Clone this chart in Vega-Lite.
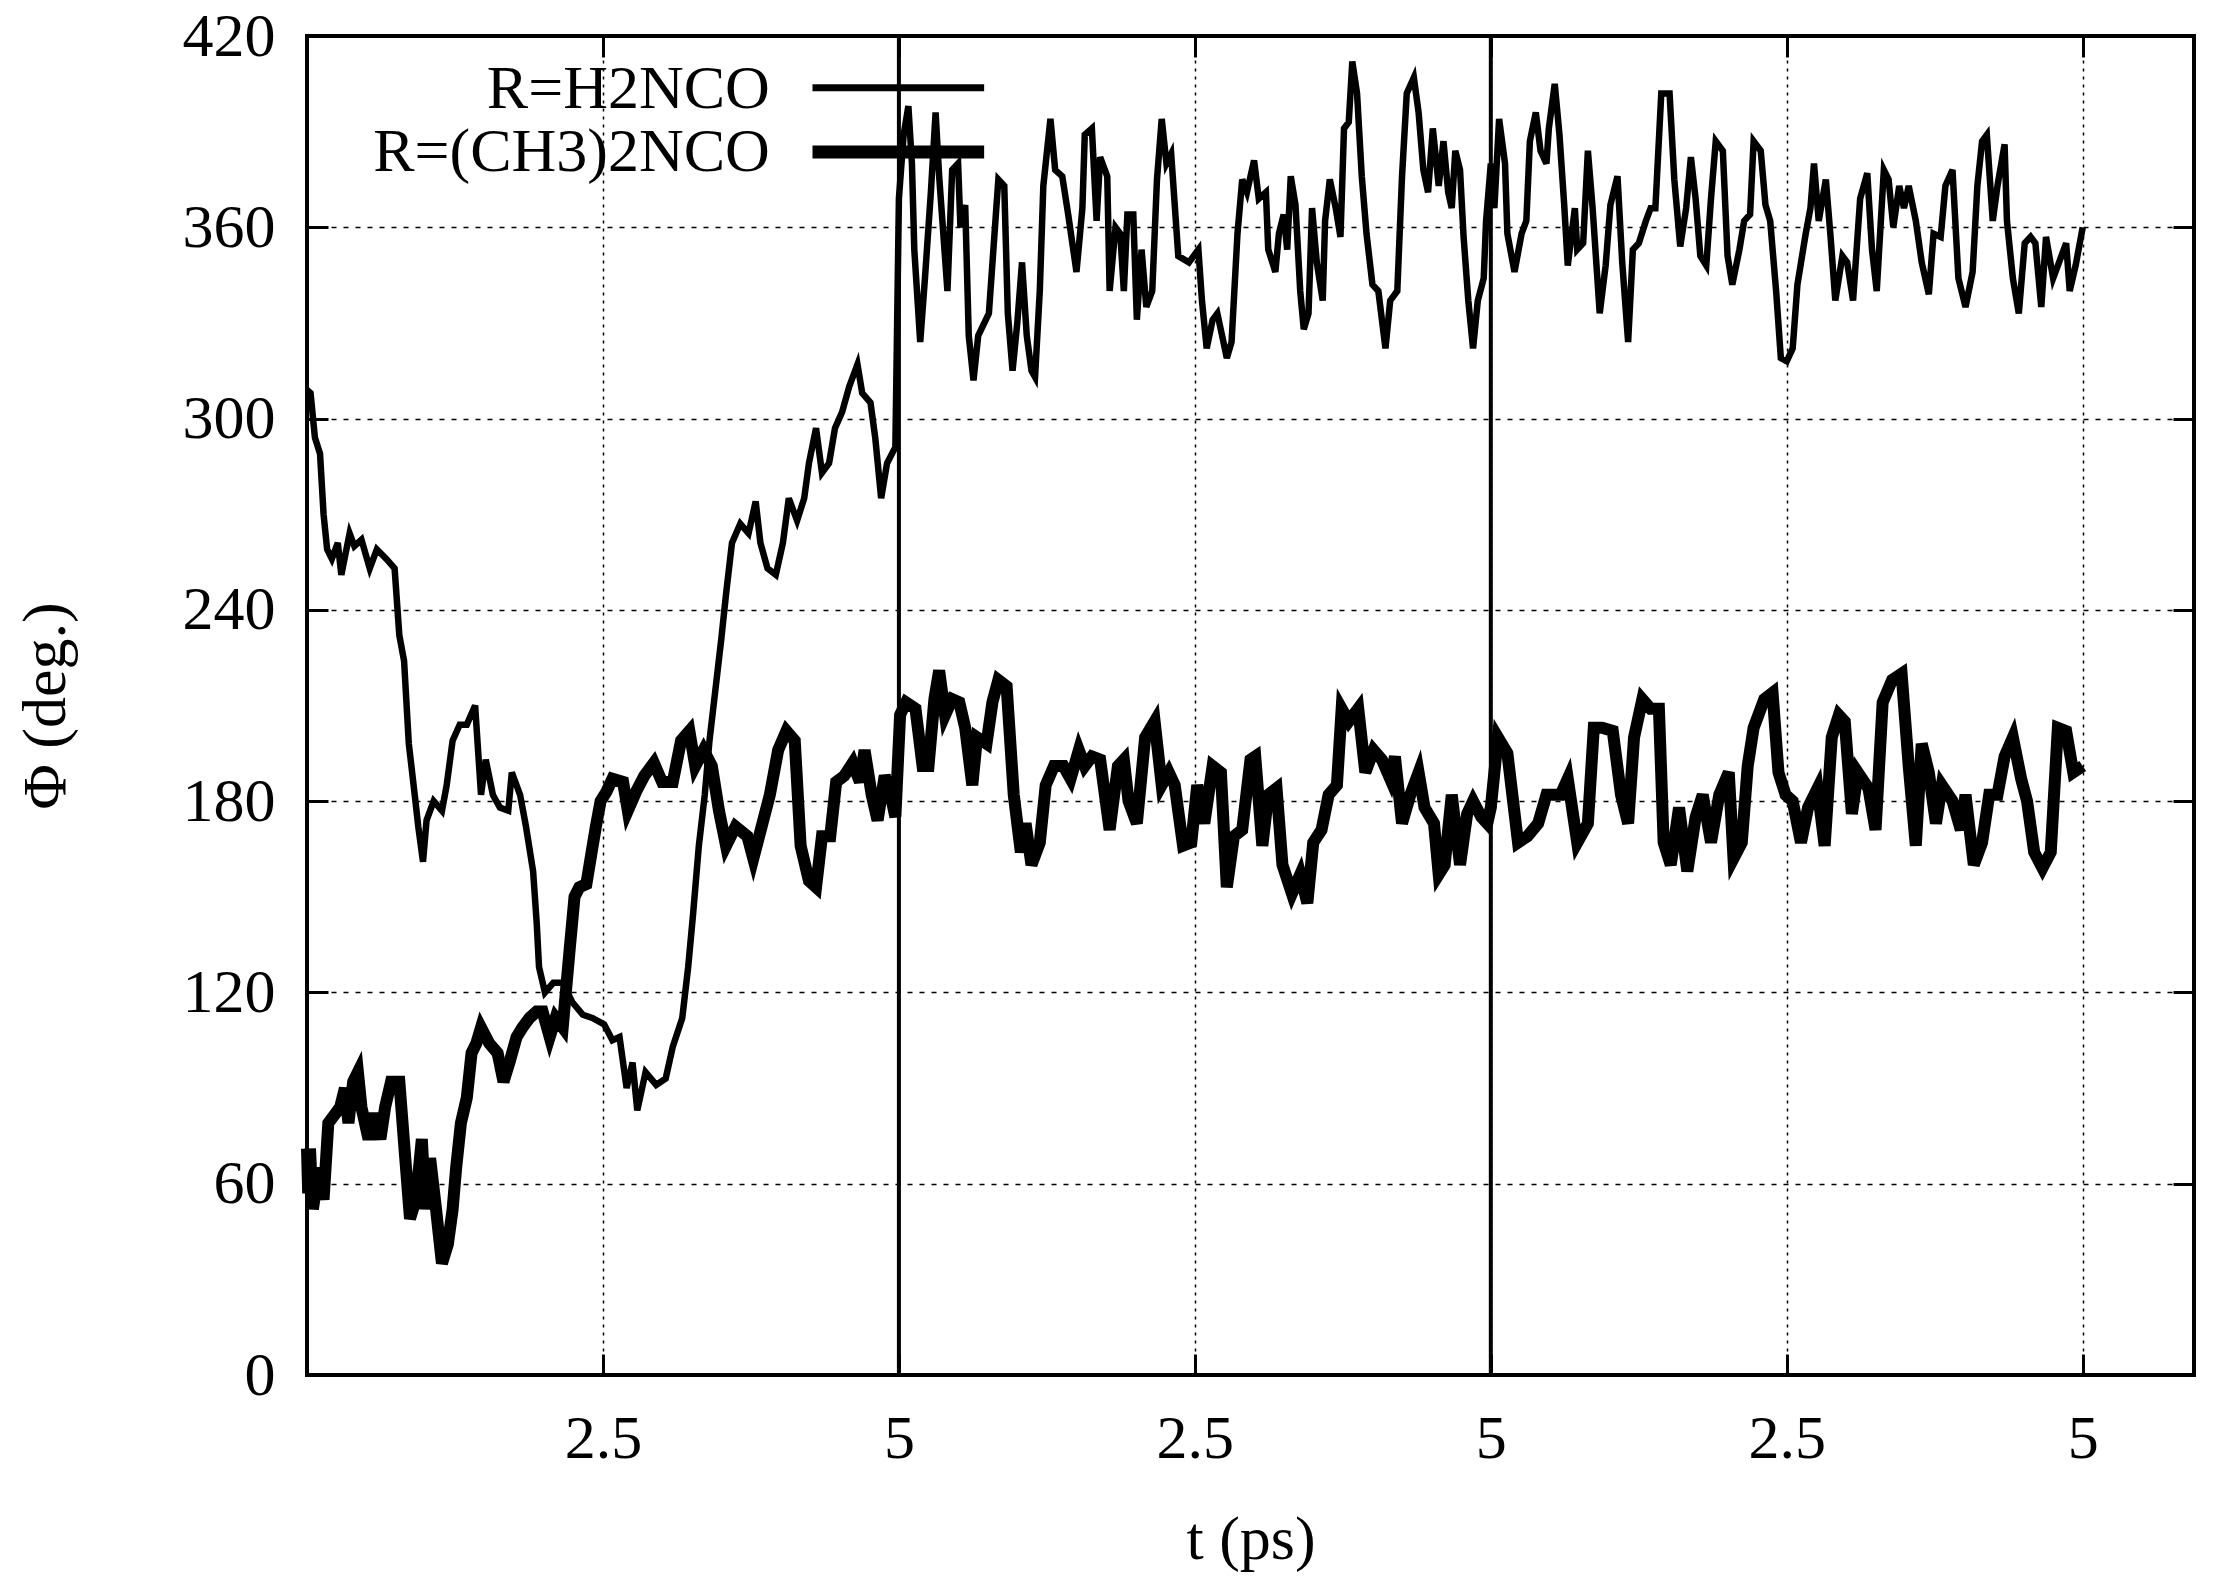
{
  "$schema": "https://vega.github.io/schema/vega-lite/v6.json",
  "width": 1887,
  "height": 1339,
  "autosize": "none",
  "padding": {"left": 307, "top": 36, "right": 20, "bottom": 212},
  "background": "white",
  "config": {
    "view": {"stroke": "black", "strokeWidth": 4},
    "font": "Liberation Serif",
    "axis": {
      "labelFont": "Liberation Serif",
      "labelFontSize": 62,
      "labelColor": "black",
      "labelFlush": false,
      "labelOverlap": false,
      "titleFont": "Liberation Serif",
      "titleFontSize": 62,
      "titleFontWeight": "normal",
      "titleColor": "black",
      "tickColor": "black",
      "tickWidth": 3,
      "tickSize": -21,
      "domain": false,
      "gridColor": "black",
      "gridOpacity": 1,
      "gridWidth": 1.5
    }
  },
  "datasets": {
    "h2nco": [
      {"t": 0, "phi": 309}, {"t": 0.03, "phi": 308}, {"t": 0.067, "phi": 294}, {"t": 0.11, "phi": 289},
      {"t": 0.14, "phi": 270}, {"t": 0.17, "phi": 259}, {"t": 0.21, "phi": 256}, {"t": 0.26, "phi": 261},
      {"t": 0.29, "phi": 251}, {"t": 0.36, "phi": 264}, {"t": 0.4, "phi": 260}, {"t": 0.46, "phi": 262},
      {"t": 0.53, "phi": 253}, {"t": 0.59, "phi": 259}, {"t": 0.67, "phi": 256}, {"t": 0.74, "phi": 253},
      {"t": 0.78, "phi": 232}, {"t": 0.82, "phi": 224}, {"t": 0.86, "phi": 198}, {"t": 0.91, "phi": 182},
      {"t": 0.94, "phi": 172}, {"t": 0.98, "phi": 161}, {"t": 1.01, "phi": 174}, {"t": 1.07, "phi": 180},
      {"t": 1.14, "phi": 177}, {"t": 1.18, "phi": 185}, {"t": 1.23, "phi": 199}, {"t": 1.29, "phi": 204},
      {"t": 1.35, "phi": 204}, {"t": 1.42, "phi": 210}, {"t": 1.47, "phi": 182}, {"t": 1.51, "phi": 193},
      {"t": 1.57, "phi": 182}, {"t": 1.63, "phi": 178}, {"t": 1.7, "phi": 177}, {"t": 1.73, "phi": 189},
      {"t": 1.8, "phi": 182}, {"t": 1.85, "phi": 172}, {"t": 1.91, "phi": 158}, {"t": 1.94, "phi": 142},
      {"t": 1.96, "phi": 128}, {"t": 2.01, "phi": 120}, {"t": 2.08, "phi": 123}, {"t": 2.16, "phi": 123},
      {"t": 2.24, "phi": 117}, {"t": 2.33, "phi": 113}, {"t": 2.41, "phi": 112}, {"t": 2.51, "phi": 110},
      {"t": 2.58, "phi": 105}, {"t": 2.64, "phi": 106}, {"t": 2.7, "phi": 90}, {"t": 2.75, "phi": 98},
      {"t": 2.79, "phi": 83}, {"t": 2.86, "phi": 95}, {"t": 2.95, "phi": 91}, {"t": 3.03, "phi": 93},
      {"t": 3.09, "phi": 103}, {"t": 3.17, "phi": 112}, {"t": 3.22, "phi": 128}, {"t": 3.26, "phi": 144},
      {"t": 3.31, "phi": 166}, {"t": 3.36, "phi": 182}, {"t": 3.4, "phi": 199}, {"t": 3.45, "phi": 215},
      {"t": 3.5, "phi": 231}, {"t": 3.54, "phi": 245}, {"t": 3.59, "phi": 261}, {"t": 3.66, "phi": 267},
      {"t": 3.73, "phi": 264}, {"t": 3.79, "phi": 274}, {"t": 3.83, "phi": 261}, {"t": 3.89, "phi": 253},
      {"t": 3.96, "phi": 251}, {"t": 4.02, "phi": 261}, {"t": 4.07, "phi": 275}, {"t": 4.14, "phi": 268},
      {"t": 4.2, "phi": 275}, {"t": 4.24, "phi": 286}, {"t": 4.3, "phi": 297}, {"t": 4.35, "phi": 283},
      {"t": 4.41, "phi": 286}, {"t": 4.46, "phi": 297}, {"t": 4.52, "phi": 302}, {"t": 4.58, "phi": 310},
      {"t": 4.65, "phi": 317}, {"t": 4.69, "phi": 308}, {"t": 4.76, "phi": 305}, {"t": 4.8, "phi": 294},
      {"t": 4.85, "phi": 275}, {"t": 4.9, "phi": 286}, {"t": 4.97, "phi": 291}, {"t": 5.0, "phi": 369},
      {"t": 5.04, "phi": 389}, {"t": 5.08, "phi": 398}, {"t": 5.11, "phi": 380}, {"t": 5.13, "phi": 353},
      {"t": 5.18, "phi": 324}, {"t": 5.22, "phi": 344}, {"t": 5.27, "phi": 371}, {"t": 5.31, "phi": 396},
      {"t": 5.34, "phi": 376}, {"t": 5.41, "phi": 340}, {"t": 5.45, "phi": 378}, {"t": 5.5, "phi": 380},
      {"t": 5.52, "phi": 360}, {"t": 5.56, "phi": 367}, {"t": 5.59, "phi": 326}, {"t": 5.63, "phi": 312},
      {"t": 5.67, "phi": 326}, {"t": 5.76, "phi": 333}, {"t": 5.84, "phi": 375}, {"t": 5.89, "phi": 373},
      {"t": 5.92, "phi": 333}, {"t": 5.96, "phi": 315}, {"t": 6.0, "phi": 330}, {"t": 6.04, "phi": 349},
      {"t": 6.08, "phi": 326}, {"t": 6.12, "phi": 315}, {"t": 6.15, "phi": 313}, {"t": 6.19, "phi": 340},
      {"t": 6.22, "phi": 373}, {"t": 6.28, "phi": 394}, {"t": 6.32, "phi": 378}, {"t": 6.38, "phi": 376},
      {"t": 6.43, "phi": 364}, {"t": 6.5, "phi": 346}, {"t": 6.55, "phi": 366}, {"t": 6.57, "phi": 389},
      {"t": 6.63, "phi": 391}, {"t": 6.67, "phi": 362}, {"t": 6.7, "phi": 382}, {"t": 6.76, "phi": 376},
      {"t": 6.78, "phi": 340}, {"t": 6.83, "phi": 360}, {"t": 6.87, "phi": 358}, {"t": 6.9, "phi": 340},
      {"t": 6.93, "phi": 364}, {"t": 6.98, "phi": 364}, {"t": 7.01, "phi": 331}, {"t": 7.05, "phi": 353},
      {"t": 7.09, "phi": 335}, {"t": 7.14, "phi": 340}, {"t": 7.18, "phi": 375}, {"t": 7.22, "phi": 394},
      {"t": 7.26, "phi": 380}, {"t": 7.3, "phi": 383}, {"t": 7.36, "phi": 351}, {"t": 7.45, "phi": 349},
      {"t": 7.53, "phi": 353}, {"t": 7.56, "phi": 337}, {"t": 7.6, "phi": 322}, {"t": 7.65, "phi": 331},
      {"t": 7.69, "phi": 333}, {"t": 7.73, "phi": 326}, {"t": 7.77, "phi": 319}, {"t": 7.81, "phi": 324},
      {"t": 7.86, "phi": 358}, {"t": 7.9, "phi": 375}, {"t": 7.94, "phi": 371}, {"t": 8.0, "phi": 381},
      {"t": 8.04, "phi": 369}, {"t": 8.1, "phi": 371}, {"t": 8.12, "phi": 353}, {"t": 8.18, "phi": 346},
      {"t": 8.21, "phi": 358}, {"t": 8.25, "phi": 364}, {"t": 8.28, "phi": 353}, {"t": 8.31, "phi": 376},
      {"t": 8.35, "phi": 367}, {"t": 8.39, "phi": 340}, {"t": 8.42, "phi": 328}, {"t": 8.46, "phi": 333},
      {"t": 8.49, "phi": 366}, {"t": 8.53, "phi": 349}, {"t": 8.58, "phi": 337}, {"t": 8.6, "phi": 362},
      {"t": 8.64, "phi": 375}, {"t": 8.69, "phi": 366}, {"t": 8.73, "phi": 357}, {"t": 8.76, "phi": 391},
      {"t": 8.8, "phi": 393}, {"t": 8.83, "phi": 412}, {"t": 8.87, "phi": 402}, {"t": 8.91, "phi": 376},
      {"t": 8.95, "phi": 358}, {"t": 9.0, "phi": 342}, {"t": 9.05, "phi": 340}, {"t": 9.11, "phi": 322},
      {"t": 9.15, "phi": 337}, {"t": 9.21, "phi": 340}, {"t": 9.25, "phi": 376}, {"t": 9.29, "phi": 402},
      {"t": 9.35, "phi": 407}, {"t": 9.39, "phi": 396}, {"t": 9.43, "phi": 378}, {"t": 9.47, "phi": 371},
      {"t": 9.51, "phi": 391}, {"t": 9.56, "phi": 373}, {"t": 9.6, "phi": 387}, {"t": 9.64, "phi": 371},
      {"t": 9.67, "phi": 366}, {"t": 9.7, "phi": 384}, {"t": 9.74, "phi": 378}, {"t": 9.77, "phi": 357},
      {"t": 9.81, "phi": 337}, {"t": 9.85, "phi": 322}, {"t": 9.89, "phi": 337}, {"t": 9.94, "phi": 344},
      {"t": 9.96, "phi": 362}, {"t": 10.0, "phi": 380}, {"t": 10.03, "phi": 366}, {"t": 10.07, "phi": 394},
      {"t": 10.12, "phi": 380}, {"t": 10.14, "phi": 358}, {"t": 10.2, "phi": 346}, {"t": 10.26, "phi": 358},
      {"t": 10.3, "phi": 362}, {"t": 10.33, "phi": 387}, {"t": 10.38, "phi": 396}, {"t": 10.42, "phi": 384},
      {"t": 10.47, "phi": 380}, {"t": 10.49, "phi": 391}, {"t": 10.54, "phi": 405}, {"t": 10.58, "phi": 389},
      {"t": 10.62, "phi": 367}, {"t": 10.65, "phi": 348}, {"t": 10.71, "phi": 366}, {"t": 10.73, "phi": 353},
      {"t": 10.78, "phi": 355}, {"t": 10.82, "phi": 384}, {"t": 10.86, "phi": 366}, {"t": 10.92, "phi": 333},
      {"t": 10.97, "phi": 348}, {"t": 11.01, "phi": 367}, {"t": 11.07, "phi": 376}, {"t": 11.11, "phi": 349},
      {"t": 11.16, "phi": 324}, {"t": 11.2, "phi": 353}, {"t": 11.25, "phi": 355}, {"t": 11.31, "phi": 362},
      {"t": 11.35, "phi": 366}, {"t": 11.39, "phi": 366}, {"t": 11.44, "phi": 402}, {"t": 11.51, "phi": 402},
      {"t": 11.55, "phi": 375}, {"t": 11.6, "phi": 354}, {"t": 11.65, "phi": 366}, {"t": 11.69, "phi": 382},
      {"t": 11.73, "phi": 369}, {"t": 11.77, "phi": 351}, {"t": 11.82, "phi": 348}, {"t": 11.86, "phi": 369},
      {"t": 11.9, "phi": 387}, {"t": 11.96, "phi": 384}, {"t": 12.0, "phi": 351}, {"t": 12.04, "phi": 342},
      {"t": 12.1, "phi": 353}, {"t": 12.14, "phi": 362}, {"t": 12.19, "phi": 364}, {"t": 12.22, "phi": 387},
      {"t": 12.28, "phi": 384}, {"t": 12.32, "phi": 367}, {"t": 12.36, "phi": 362}, {"t": 12.41, "phi": 340},
      {"t": 12.45, "phi": 319}, {"t": 12.5, "phi": 318}, {"t": 12.55, "phi": 322}, {"t": 12.59, "phi": 342},
      {"t": 12.66, "phi": 358}, {"t": 12.7, "phi": 366}, {"t": 12.73, "phi": 380}, {"t": 12.77, "phi": 362},
      {"t": 12.83, "phi": 375}, {"t": 12.87, "phi": 357}, {"t": 12.91, "phi": 337}, {"t": 12.97, "phi": 351},
      {"t": 13.01, "phi": 349}, {"t": 13.06, "phi": 337}, {"t": 13.12, "phi": 369}, {"t": 13.18, "phi": 377},
      {"t": 13.22, "phi": 353}, {"t": 13.26, "phi": 340}, {"t": 13.32, "phi": 378}, {"t": 13.36, "phi": 375},
      {"t": 13.4, "phi": 360}, {"t": 13.45, "phi": 373}, {"t": 13.49, "phi": 366}, {"t": 13.53, "phi": 373},
      {"t": 13.59, "phi": 362}, {"t": 13.64, "phi": 349}, {"t": 13.7, "phi": 339}, {"t": 13.74, "phi": 358},
      {"t": 13.8, "phi": 357}, {"t": 13.84, "phi": 373}, {"t": 13.9, "phi": 378}, {"t": 13.95, "phi": 344},
      {"t": 14.01, "phi": 335}, {"t": 14.07, "phi": 346}, {"t": 14.11, "phi": 373}, {"t": 14.15, "phi": 387},
      {"t": 14.19, "phi": 389}, {"t": 14.24, "phi": 362}, {"t": 14.28, "phi": 373}, {"t": 14.34, "phi": 386},
      {"t": 14.36, "phi": 362}, {"t": 14.41, "phi": 344}, {"t": 14.46, "phi": 333}, {"t": 14.51, "phi": 355},
      {"t": 14.56, "phi": 357}, {"t": 14.6, "phi": 355}, {"t": 14.65, "phi": 335}, {"t": 14.69, "phi": 357},
      {"t": 14.75, "phi": 344}, {"t": 14.8, "phi": 349}, {"t": 14.86, "phi": 355}, {"t": 14.89, "phi": 340},
      {"t": 14.94, "phi": 348}, {"t": 15.0, "phi": 360}
    ],
    "ch3": [
      {"t": 0, "phi": 71}, {"t": 0.01, "phi": 57}, {"t": 0.025, "phi": 71}, {"t": 0.05, "phi": 52},
      {"t": 0.1, "phi": 65}, {"t": 0.14, "phi": 55}, {"t": 0.18, "phi": 79}, {"t": 0.24, "phi": 82},
      {"t": 0.28, "phi": 84}, {"t": 0.32, "phi": 90}, {"t": 0.35, "phi": 79}, {"t": 0.39, "phi": 92},
      {"t": 0.43, "phi": 95}, {"t": 0.46, "phi": 84}, {"t": 0.52, "phi": 74}, {"t": 0.57, "phi": 82},
      {"t": 0.62, "phi": 74}, {"t": 0.66, "phi": 84}, {"t": 0.71, "phi": 92}, {"t": 0.78, "phi": 92},
      {"t": 0.83, "phi": 68}, {"t": 0.87, "phi": 49}, {"t": 0.92, "phi": 55}, {"t": 0.97, "phi": 74},
      {"t": 1.0, "phi": 52}, {"t": 1.04, "phi": 68}, {"t": 1.09, "phi": 52}, {"t": 1.14, "phi": 35},
      {"t": 1.19, "phi": 41}, {"t": 1.23, "phi": 52}, {"t": 1.26, "phi": 65}, {"t": 1.3, "phi": 79},
      {"t": 1.35, "phi": 87}, {"t": 1.39, "phi": 101}, {"t": 1.43, "phi": 104}, {"t": 1.47, "phi": 109},
      {"t": 1.54, "phi": 104}, {"t": 1.61, "phi": 101}, {"t": 1.66, "phi": 92}, {"t": 1.71, "phi": 98},
      {"t": 1.77, "phi": 106}, {"t": 1.82, "phi": 109}, {"t": 1.88, "phi": 112}, {"t": 1.94, "phi": 114},
      {"t": 1.99, "phi": 114}, {"t": 2.05, "phi": 106}, {"t": 2.1, "phi": 112}, {"t": 2.16, "phi": 109},
      {"t": 2.22, "phi": 134}, {"t": 2.26, "phi": 150}, {"t": 2.3, "phi": 153}, {"t": 2.36, "phi": 154},
      {"t": 2.4, "phi": 163}, {"t": 2.44, "phi": 172}, {"t": 2.48, "phi": 180}, {"t": 2.53, "phi": 183},
      {"t": 2.58, "phi": 187}, {"t": 2.67, "phi": 186}, {"t": 2.71, "phi": 177}, {"t": 2.78, "phi": 183},
      {"t": 2.85, "phi": 188}, {"t": 2.93, "phi": 192}, {"t": 3.0, "phi": 186}, {"t": 3.09, "phi": 186},
      {"t": 3.16, "phi": 199}, {"t": 3.23, "phi": 202}, {"t": 3.28, "phi": 191}, {"t": 3.35, "phi": 196},
      {"t": 3.42, "phi": 191}, {"t": 3.48, "phi": 177}, {"t": 3.54, "phi": 166}, {"t": 3.62, "phi": 172},
      {"t": 3.72, "phi": 169}, {"t": 3.77, "phi": 162}, {"t": 3.84, "phi": 172}, {"t": 3.91, "phi": 182},
      {"t": 3.98, "phi": 196}, {"t": 4.05, "phi": 202}, {"t": 4.12, "phi": 199}, {"t": 4.17, "phi": 166},
      {"t": 4.24, "phi": 155}, {"t": 4.3, "phi": 153}, {"t": 4.35, "phi": 169}, {"t": 4.42, "phi": 169},
      {"t": 4.47, "phi": 186}, {"t": 4.54, "phi": 188}, {"t": 4.61, "phi": 192}, {"t": 4.67, "phi": 186},
      {"t": 4.71, "phi": 196}, {"t": 4.77, "phi": 182}, {"t": 4.82, "phi": 174}, {"t": 4.88, "phi": 188},
      {"t": 4.93, "phi": 182}, {"t": 4.97, "phi": 175}, {"t": 5.01, "phi": 207}, {"t": 5.06, "phi": 211},
      {"t": 5.14, "phi": 209}, {"t": 5.2, "phi": 191}, {"t": 5.25, "phi": 191}, {"t": 5.3, "phi": 212},
      {"t": 5.34, "phi": 221}, {"t": 5.39, "phi": 207}, {"t": 5.45, "phi": 212}, {"t": 5.51, "phi": 211},
      {"t": 5.56, "phi": 203}, {"t": 5.62, "phi": 185}, {"t": 5.66, "phi": 200}, {"t": 5.74, "phi": 198},
      {"t": 5.79, "phi": 211}, {"t": 5.84, "phi": 218}, {"t": 5.91, "phi": 216}, {"t": 5.97, "phi": 182},
      {"t": 6.03, "phi": 164}, {"t": 6.07, "phi": 173}, {"t": 6.12, "phi": 160}, {"t": 6.19, "phi": 167},
      {"t": 6.24, "phi": 185}, {"t": 6.31, "phi": 191}, {"t": 6.39, "phi": 191}, {"t": 6.45, "phi": 187},
      {"t": 6.52, "phi": 196}, {"t": 6.57, "phi": 191}, {"t": 6.63, "phi": 194}, {"t": 6.7, "phi": 193},
      {"t": 6.74, "phi": 182}, {"t": 6.78, "phi": 171}, {"t": 6.85, "phi": 191}, {"t": 6.9, "phi": 193},
      {"t": 6.94, "phi": 180}, {"t": 7.01, "phi": 173}, {"t": 7.08, "phi": 200}, {"t": 7.16, "phi": 205},
      {"t": 7.22, "phi": 185}, {"t": 7.28, "phi": 189}, {"t": 7.33, "phi": 185}, {"t": 7.4, "phi": 166},
      {"t": 7.47, "phi": 167}, {"t": 7.52, "phi": 185}, {"t": 7.58, "phi": 173}, {"t": 7.65, "phi": 191},
      {"t": 7.72, "phi": 189}, {"t": 7.77, "phi": 153}, {"t": 7.83, "phi": 169}, {"t": 7.9, "phi": 171},
      {"t": 7.97, "phi": 193}, {"t": 8.01, "phi": 194}, {"t": 8.07, "phi": 166}, {"t": 8.12, "phi": 182},
      {"t": 8.19, "phi": 184}, {"t": 8.24, "phi": 160}, {"t": 8.32, "phi": 151}, {"t": 8.39, "phi": 157},
      {"t": 8.45, "phi": 148}, {"t": 8.5, "phi": 167}, {"t": 8.57, "phi": 171}, {"t": 8.63, "phi": 182},
      {"t": 8.7, "phi": 185}, {"t": 8.74, "phi": 209}, {"t": 8.8, "phi": 205}, {"t": 8.88, "phi": 209},
      {"t": 8.94, "phi": 189}, {"t": 9.01, "phi": 196}, {"t": 9.08, "phi": 193}, {"t": 9.15, "phi": 187},
      {"t": 9.19, "phi": 194}, {"t": 9.25, "phi": 173}, {"t": 9.32, "phi": 182}, {"t": 9.39, "phi": 189},
      {"t": 9.44, "phi": 178}, {"t": 9.52, "phi": 173}, {"t": 9.56, "phi": 157}, {"t": 9.61, "phi": 160},
      {"t": 9.67, "phi": 182}, {"t": 9.74, "phi": 160}, {"t": 9.8, "phi": 176}, {"t": 9.85, "phi": 180},
      {"t": 9.92, "phi": 175}, {"t": 9.97, "phi": 173}, {"t": 10.0, "phi": 178}, {"t": 10.06, "phi": 200},
      {"t": 10.14, "phi": 195}, {"t": 10.23, "phi": 167}, {"t": 10.31, "phi": 169}, {"t": 10.4, "phi": 173},
      {"t": 10.47, "phi": 182}, {"t": 10.54, "phi": 182}, {"t": 10.59, "phi": 182}, {"t": 10.65, "phi": 187},
      {"t": 10.73, "phi": 167}, {"t": 10.82, "phi": 173}, {"t": 10.87, "phi": 203}, {"t": 10.94, "phi": 203},
      {"t": 11.03, "phi": 202}, {"t": 11.1, "phi": 182}, {"t": 11.16, "phi": 173}, {"t": 11.21, "phi": 200},
      {"t": 11.28, "phi": 212}, {"t": 11.35, "phi": 209}, {"t": 11.42, "phi": 209}, {"t": 11.46, "phi": 167},
      {"t": 11.52, "phi": 160}, {"t": 11.59, "phi": 178}, {"t": 11.66, "phi": 158}, {"t": 11.73, "phi": 175},
      {"t": 11.79, "phi": 182}, {"t": 11.86, "phi": 167}, {"t": 11.93, "phi": 182}, {"t": 12.01, "phi": 189},
      {"t": 12.05, "phi": 162}, {"t": 12.12, "phi": 167}, {"t": 12.17, "phi": 191}, {"t": 12.22, "phi": 203},
      {"t": 12.31, "phi": 212}, {"t": 12.38, "phi": 214}, {"t": 12.43, "phi": 189}, {"t": 12.49, "phi": 182},
      {"t": 12.55, "phi": 180}, {"t": 12.62, "phi": 167}, {"t": 12.68, "phi": 178}, {"t": 12.76, "phi": 184},
      {"t": 12.82, "phi": 166}, {"t": 12.88, "phi": 200}, {"t": 12.94, "phi": 207}, {"t": 12.99, "phi": 205},
      {"t": 13.05, "phi": 176}, {"t": 13.1, "phi": 189}, {"t": 13.19, "phi": 184}, {"t": 13.25, "phi": 171},
      {"t": 13.31, "phi": 211}, {"t": 13.39, "phi": 218}, {"t": 13.47, "phi": 220}, {"t": 13.53, "phi": 191},
      {"t": 13.59, "phi": 166}, {"t": 13.64, "phi": 198}, {"t": 13.7, "phi": 189}, {"t": 13.76, "phi": 173},
      {"t": 13.81, "phi": 185}, {"t": 13.9, "phi": 180}, {"t": 13.97, "phi": 171}, {"t": 14.01, "phi": 182},
      {"t": 14.08, "phi": 160}, {"t": 14.15, "phi": 167}, {"t": 14.21, "phi": 182}, {"t": 14.28, "phi": 182},
      {"t": 14.34, "phi": 194}, {"t": 14.41, "phi": 200}, {"t": 14.48, "phi": 187}, {"t": 14.53, "phi": 180},
      {"t": 14.59, "phi": 164}, {"t": 14.66, "phi": 159}, {"t": 14.73, "phi": 164}, {"t": 14.79, "phi": 203},
      {"t": 14.86, "phi": 202}, {"t": 14.92, "phi": 189}, {"t": 15.0, "phi": 191}
    ],
    "segments": [{"t": 5}, {"t": 10}]
  },
  "layer": [
    {
      "data": {"name": "h2nco"},
      "mark": {"type": "line", "color": "black", "strokeWidth": 6.5, "strokeJoin": "miter"},
      "encoding": {
        "x": {
          "field": "t",
          "type": "quantitative",
          "scale": {"domain": [0, 15.94], "nice": false, "zero": false},
          "axis": {
            "orient": "bottom",
            "values": [2.5, 5, 7.5, 10, 12.5, 15],
            "labelExpr": "datum.value % 5 == 0 ? '5' : '2.5'",
            "labelPadding": 54,
            "grid": true,
            "gridDash": [3, 5],
            "title": "t (ps)",
            "titlePadding": 40
          }
        },
        "y": {
          "field": "phi",
          "type": "quantitative",
          "scale": {"domain": [0, 420], "nice": false, "zero": false},
          "axis": {
            "orient": "left",
            "values": [0, 60, 120, 180, 240, 300, 360, 420],
            "labelPadding": 53,
            "grid": true,
            "gridDash": [5, 7],
            "title": "Φ (deg.)",
            "titlePadding": 105
          }
        }
      }
    },
    {
      "data": {"name": "ch3"},
      "mark": {"type": "line", "color": "black", "strokeWidth": 12, "strokeJoin": "miter"},
      "encoding": {
        "x": {
          "field": "t",
          "type": "quantitative",
          "scale": {"domain": [0, 15.94], "nice": false, "zero": false},
          "axis": {
            "orient": "top",
            "values": [2.5, 5, 7.5, 10, 12.5, 15],
            "labels": false,
            "grid": false,
            "title": null
          }
        },
        "y": {
          "field": "phi",
          "type": "quantitative",
          "scale": {"domain": [0, 420], "nice": false, "zero": false},
          "axis": {
            "orient": "right",
            "values": [60, 120, 180, 240, 300, 360],
            "labels": false,
            "grid": false,
            "title": null
          }
        }
      }
    },
    {
      "data": {"name": "segments"},
      "mark": {"type": "rule", "color": "black", "strokeWidth": 4},
      "encoding": {
        "x": {"field": "t", "type": "quantitative", "scale": {"domain": [0, 15.94], "nice": false, "zero": false}, "axis": null}
      }
    },
    {
      "data": {"values": [{"label": "R=H2NCO"}]},
      "mark": {"type": "text", "align": "right", "baseline": "middle", "font": "Liberation Serif", "fontSize": 62, "color": "black"},
      "encoding": {
        "x": {"datum": 3.91, "type": "quantitative", "scale": {"domain": [0, 15.94], "nice": false, "zero": false}, "axis": null},
        "y": {"datum": 403.5, "type": "quantitative", "scale": {"domain": [0, 420], "nice": false, "zero": false}, "axis": null},
        "text": {"field": "label"}
      }
    },
    {
      "data": {"values": [{"label": "R=(CH3)2NCO"}]},
      "mark": {"type": "text", "align": "right", "baseline": "middle", "font": "Liberation Serif", "fontSize": 62, "color": "black"},
      "encoding": {
        "x": {"datum": 3.91, "type": "quantitative", "scale": {"domain": [0, 15.94], "nice": false, "zero": false}, "axis": null},
        "y": {"datum": 383.5, "type": "quantitative", "scale": {"domain": [0, 420], "nice": false, "zero": false}, "axis": null},
        "text": {"field": "label"}
      }
    },
    {
      "data": {"values": [{"label": "R=H2NCO"}]},
      "mark": {"type": "rule", "color": "black", "strokeWidth": 7},
      "encoding": {
        "x": {"datum": 4.27, "type": "quantitative", "scale": {"domain": [0, 15.94], "nice": false, "zero": false}, "axis": null},
        "x2": {"datum": 5.72},
        "y": {"datum": 403.8, "type": "quantitative", "scale": {"domain": [0, 420], "nice": false, "zero": false}, "axis": null}
      }
    },
    {
      "data": {"values": [{"label": "R=(CH3)2NCO"}]},
      "mark": {"type": "rule", "color": "black", "strokeWidth": 13},
      "encoding": {
        "x": {"datum": 4.27, "type": "quantitative", "scale": {"domain": [0, 15.94], "nice": false, "zero": false}, "axis": null},
        "x2": {"datum": 5.72},
        "y": {"datum": 383.6, "type": "quantitative", "scale": {"domain": [0, 420], "nice": false, "zero": false}, "axis": null}
      }
    }
  ],
  "resolve": {"axis": {"x": "independent", "y": "independent"}}
}
